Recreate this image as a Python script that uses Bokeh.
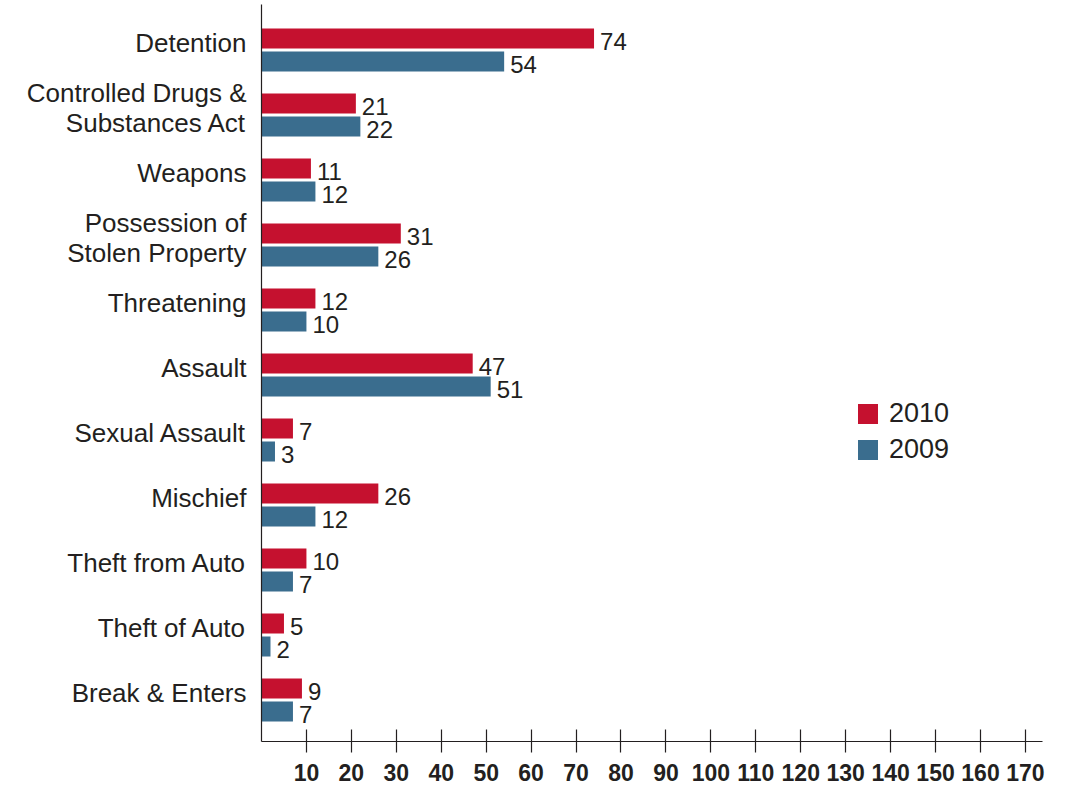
from bokeh.plotting import figure
from bokeh.models import Range1d, FixedTicker, Legend, LegendItem, ColumnDataSource
from bokeh.embed import file_html
from bokeh.resources import INLINE
from bokeh.core.properties import value

categories = ["Detention", "Controlled Drugs &\nSubstances Act", "Weapons",
              "Possession of\nStolen Property", "Threatening", "Assault",
              "Sexual Assault", "Mischief", "Theft from Auto", "Theft of Auto",
              "Break & Enters"]
values_2010 = [74, 21, 11, 31, 12, 47, 7, 26, 10, 5, 9]
values_2009 = [54, 22, 12, 26, 10, 51, 3, 12, 7, 2, 7]
series_names = ["2010", "2009"]
x_ticks = list(range(10, 171, 10))

FONT = "Liberation Sans"
TXT = "#231f20"
RED = "#c5112f"
BLUE = "#3a6d8e"

n = len(categories)
pos = [n - 1 - i for i in range(n)]
off = 0.177
h = 0.308
label_pos = [round(p_ + 0.11, 2) for p_ in pos]

src10 = ColumnDataSource(dict(y=[p_ + off for p_ in pos], right=values_2010,
                              lab=[str(v) for v in values_2010]))
src09 = ColumnDataSource(dict(y=[p_ - off for p_ in pos], right=values_2009,
                              lab=[str(v) for v in values_2009]))

p = figure(width=1058, height=795, output_backend="svg", toolbar_location=None,
           x_range=Range1d(0, 173.8), y_range=Range1d(-0.64, 10.70),
           min_border_left=261, min_border_right=16, min_border_top=4,
           min_border_bottom=54)
p.outline_line_color = None
p.xgrid.visible = False
p.ygrid.visible = False

r10 = p.hbar(y="y", right="right", left=0, height=h, source=src10, color=RED, line_color=None)
r09 = p.hbar(y="y", right="right", left=0, height=h, source=src09, color=BLUE, line_color=None)

for s in (src10, src09):
    p.text(x="right", y="y", text="lab", source=s, x_offset=6, y_offset=3,
           text_baseline="middle", text_align="left", text_font=value(FONT),
           text_font_size="24px", text_color=TXT)

legend = Legend(items=[LegendItem(label=series_names[0], renderers=[r10]),
                       LegendItem(label=series_names[1], renderers=[r09])],
                location=(594, 276), glyph_width=25, glyph_height=25,
                label_height=20, spacing=5, padding=0, margin=0,
                label_standoff=9, border_line_color=None,
                background_fill_alpha=0, label_text_font=FONT,
                label_text_font_size="27px", label_text_color=TXT)
p.add_layout(legend)

xa = p.xaxis[0]
xa.ticker = FixedTicker(ticks=x_ticks)
xa.axis_line_color = TXT
xa.axis_line_width = 1.2
xa.major_tick_line_color = TXT
xa.major_tick_line_width = 1.2
xa.major_tick_in = 12
xa.major_tick_out = 11
xa.minor_tick_line_color = None
xa.major_label_standoff = 11
xa.major_label_text_font = FONT
xa.major_label_text_font_style = "bold"
xa.major_label_text_font_size = "23px"
xa.major_label_text_color = TXT

ya = p.yaxis[0]
ya.ticker = FixedTicker(ticks=label_pos)
ya.major_label_overrides = {lp: c for lp, c in zip(label_pos, categories)}
ya.axis_line_color = TXT
ya.axis_line_width = 1.2
ya.major_tick_line_color = None
ya.minor_tick_line_color = None
ya.major_tick_in = 0
ya.major_tick_out = 0
ya.major_label_standoff = 15
ya.major_label_text_font = FONT
ya.major_label_text_font_size = "26px"
ya.major_label_text_line_height = 1.0
ya.major_label_text_color = TXT
ya.major_label_text_align = "right"

open("out.html", "w").write(file_html(p, INLINE))
